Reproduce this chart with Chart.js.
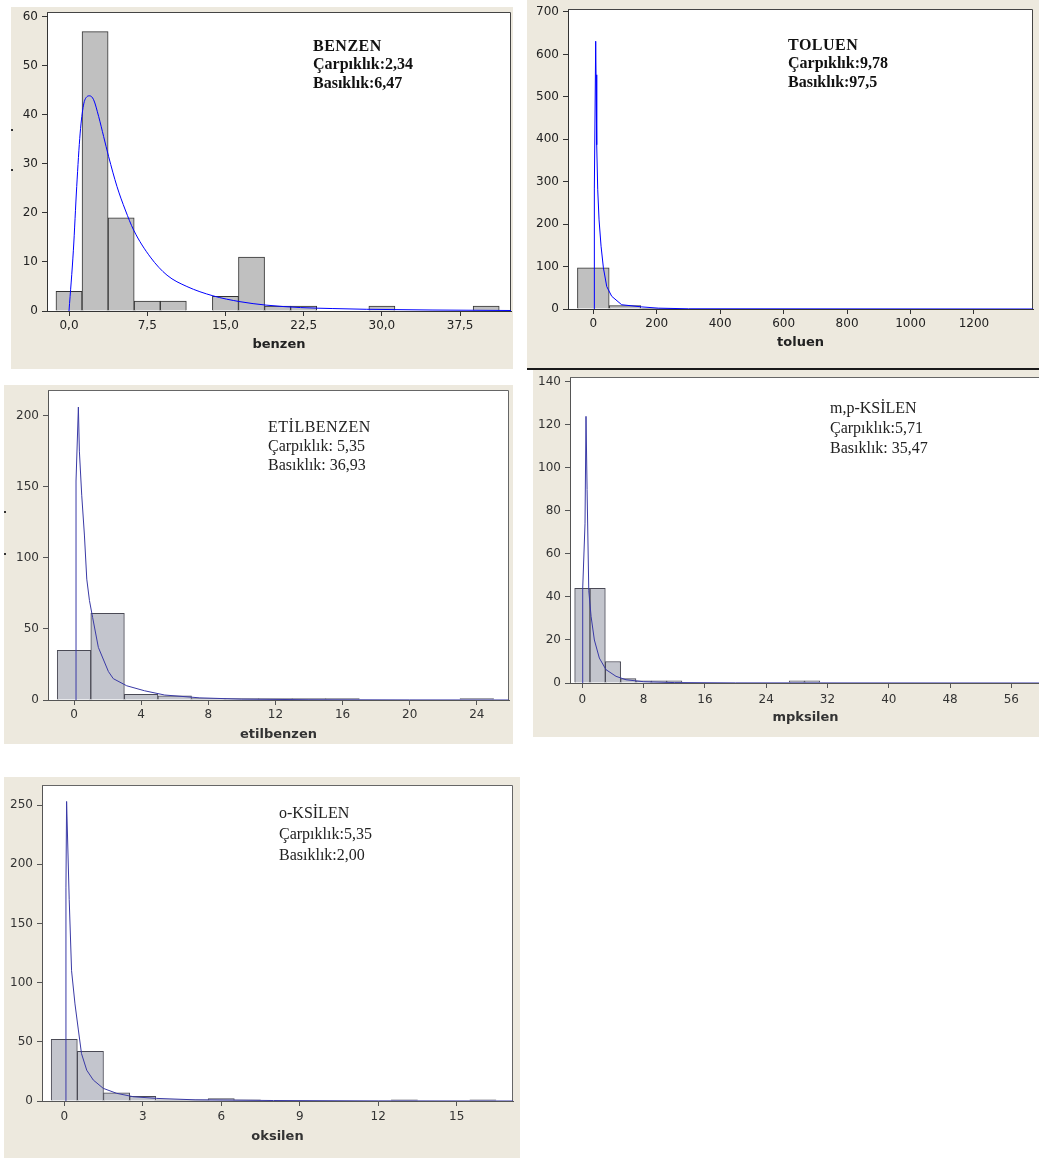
<!DOCTYPE html>
<html>
<head>
<meta charset="utf-8">
<title>Histogramlar</title>
<script src="https://cdn.jsdelivr.net/npm/chart.js@4"></script>
<style>
  html, body { margin: 0; padding: 0; background: #ffffff; }
  body { position: relative; width: 1039px; height: 1160px; overflow: hidden; }
  .panel { position: absolute; background: #ede9de; overflow: hidden; }
  .panel canvas { position: absolute; left: 0; top: 0; }
  .soft { filter: blur(0.55px); }
  .note { position: absolute; font-family: "Liberation Serif", "Times New Roman", serif;
          font-size: 16px; line-height: 16px; color: #111; white-space: nowrap; }
  .dot { position: absolute; width: 2px; height: 2px; background: #333; }
  .rule { position: absolute; background: #1a1a1a; }
</style>
</head>
<body>
<script>
// ---------- benzen ----------
const benzenBins   = [0, 2.5, 5, 7.5, 10, 12.5, 15, 17.5, 20, 22.5, 25, 27.5, 30, 32.5, 35, 37.5, 40];
const benzenCounts = [4, 57, 19, 2, 2, 0, 3, 11, 1, 1, 0, 0, 1, 0, 0, 0, 1];
const benzenFitX   = [0, 0.42, 0.74, 1.07, 1.39, 1.71, 1.97, 2.36, 2.84, 3.32, 3.8, 4.6, 5.4, 6.2, 7.8, 9.4, 11.3, 13.8, 16.4, 18.9, 22.2, 25.3, 28.5, 34.9, 42.4];
const benzenFitY   = [0, 12.4, 25.4, 36.3, 42, 43.7, 43.9, 43.1, 39.7, 35.6, 31.5, 25.4, 20.6, 16.5, 11, 7.3, 5, 3.1, 1.9, 1.2, 0.7, 0.5, 0.35, 0.2, 0.1];
const benzenXTicks = [0, 7.5, 15, 22.5, 30, 37.5];
const benzenXLabels = ['0,0', '7,5', '15,0', '22,5', '30,0', '37,5'];
const benzenYTicks = [0, 10, 20, 30, 40, 50, 60];
const benzenNote   = ['BENZEN', 'Çarpıklık:2,34', 'Basıklık:6,47'];

// ---------- toluen ----------
const toluenBins   = [0, 100, 200];
const toluenCounts = [97, 8, 1];
const toluenFitX   = [3.3, 3.3, 7.5, 8.6, 10.7, 13.9, 18.1, 24.4, 31.8, 42.3, 58, 89.5, 152.5, 205, 300, 1386];
const toluenFitY   = [0, 285, 631, 552, 387, 281, 210, 148, 97, 53, 30, 10, 5, 2, 0.5, 0];
const toluenXTicks = [0, 200, 400, 600, 800, 1000, 1200];
const toluenYTicks = [0, 100, 200, 300, 400, 500, 600, 700];
const toluenNote   = ['TOLUEN', 'Çarpıklık:9,78', 'Basıklık:97,5'];

// ---------- etilbenzen ----------
const etilBins   = [0, 2, 4, 6, 8, 10, 12, 14, 16, 18, 20, 22, 24];
const etilCounts = [35, 61, 4, 3, 1, 1, 1, 1, 1, 0, 0, 0, 1];
const etilFitX   = [0.12, 0.12, 0.26, 0.32, 0.46, 0.62, 0.76, 0.92, 1.11, 1.45, 2.05, 2.34, 3.14, 4.2, 5.4, 7.5, 10, 14, 20, 25.9];
const etilFitY   = [0, 154, 206, 175, 144, 116, 85, 70, 58, 37, 20, 15, 10, 6.5, 3.5, 1.5, 0.6, 0.2, 0.05, 0];
const etilXTicks = [0, 4, 8, 12, 16, 20, 24];
const etilYTicks = [0, 50, 100, 150, 200];
const etilNote   = ['ETİLBENZEN', 'Çarpıklık: 5,35', 'Basıklık: 36,93'];

// ---------- m,p-ksilen ----------
const mpBins   = [0, 2, 4, 6, 8, 10, 12, 14, 16, 18, 20, 22, 24, 26, 28, 30];
const mpCounts = [44, 44, 10, 2, 1, 1, 1, 0, 0, 0, 0, 0, 0, 0, 1, 1];
const mpFitX   = [0.05, 0.05, 0.35, 0.48, 0.62, 0.84, 1.14, 1.57, 2.22, 3.09, 4.4, 5.7, 8, 12, 20, 59.9];
const mpFitY   = [0, 44, 74, 124, 90, 43, 31, 20, 11.6, 6.2, 3.1, 1.5, 0.6, 0.2, 0.05, 0];
const mpXTicks = [0, 8, 16, 24, 32, 40, 48, 56];
const mpYTicks = [0, 20, 40, 60, 80, 100, 120, 140];
const mpNote   = ['m,p-KSİLEN', 'Çarpıklık:5,71', 'Basıklık: 35,47'];

// ---------- o-ksilen ----------
const okBins   = [0, 1, 2, 3, 4, 5, 6, 7, 8, 9, 10, 11, 12, 13, 14, 15, 16];
const okCounts = [52, 42, 7, 4, 1, 1, 2, 1, 0, 0, 0, 0, 0, 1, 0, 0, 1];
const okFitX   = [0.065, 0.065, 0.09, 0.19, 0.28, 0.41, 0.54, 0.66, 0.86, 1.11, 1.49, 2.0, 2.64, 3.53, 5, 8, 12, 17.15];
const okFitY   = [0, 180, 253, 170, 110, 82, 60, 40, 26, 17.7, 10.7, 6.5, 3.6, 2.2, 1, 0.4, 0.1, 0];
const okXTicks = [0, 3, 6, 9, 12, 15];
const okYTicks = [0, 50, 100, 150, 200, 250];
const okNote   = ['o-KSİLEN', 'Çarpıklık:5,35', 'Basıklık:2,00'];

Chart.defaults.font.family = '"DejaVu Sans", Verdana, sans-serif';
Chart.defaults.font.size = 12;
Chart.defaults.color = '#222';

// white plotting area plus its top and right edges
const framePlugin = {
  id: 'frame',
  beforeDraw(chart) {
    const { ctx, chartArea: a } = chart;
    ctx.save();
    ctx.fillStyle = '#ffffff';
    ctx.fillRect(a.left, a.top, a.right - a.left, a.bottom - a.top);
    ctx.restore();
  },
  beforeDatasetsDraw(chart, args, opts) {
    const { ctx, chartArea: a } = chart;
    ctx.save();
    ctx.strokeStyle = opts.color || '#333';
    ctx.lineWidth = 1;
    ctx.beginPath();
    ctx.moveTo(Math.round(a.left), Math.round(a.top) + 0.5);
    ctx.lineTo(Math.round(a.right) - 0.5, Math.round(a.top) + 0.5);
    ctx.lineTo(Math.round(a.right) - 0.5, Math.round(a.bottom));
    ctx.stroke();
    ctx.restore();
  }
};

const pairs = (xs, ys) => xs.map((x, i) => ({ x, y: ys[i] }));

function histogram(spec) {
  const box = spec.box, plot = spec.plot;
  const panel = document.createElement('div');
  panel.className = 'panel' + (spec.soft ? ' soft' : '');
  Object.assign(panel.style, { left: box.l + 'px', top: box.t + 'px', width: box.w + 'px', height: box.h + 'px' });
  document.body.appendChild(panel);

  const canvas = document.createElement('canvas');
  canvas.width = box.w; canvas.height = box.h;
  canvas.style.width = box.w + 'px'; canvas.style.height = box.h + 'px';
  panel.appendChild(canvas);

  const yAxisW = plot.l - box.l;
  const xAxisH = box.t + box.h - plot.b;
  const padTop = plot.t - box.t;
  const padRight = box.l + box.w - plot.r;
  const tickLen = 5;
  const tickFont = 12, titleFont = 13;
  const xTickPad = spec.xLabelY - plot.b - tickLen - tickFont * 1.2 / 2;
  const titlePadBottom = box.h - (spec.titleY - box.t) - titleFont * 1.2 / 2;

  // axis sizes are fixed so the plotting area sits exactly where intended
  const fixX = s => { s.height = xAxisH; s.paddingLeft = s.paddingRight = s.paddingTop = s.paddingBottom = 0; };
  const fixY = s => { s.width = yAxisW; s.paddingLeft = s.paddingRight = s.paddingTop = s.paddingBottom = 0; };

  new Chart(canvas, {
    type: 'bar',
    data: {
      datasets: [
        {
          type: 'line',
          data: pairs(spec.fitX, spec.fitY),
          borderColor: spec.curveColor,
          borderWidth: spec.curveWidth || 1,
          pointRadius: 0,
          tension: 0,
          cubicInterpolationMode: spec.smooth ? 'monotone' : 'default',
          fill: false,
          order: 0
        },
        {
          type: 'bar',
          data: pairs(spec.bins, spec.counts),
          backgroundColor: spec.barFill,
          borderColor: spec.barEdge,
          borderWidth: 1,
          borderSkipped: 'start',
          barPercentage: 1,
          categoryPercentage: 1,
          order: 1
        }
      ]
    },
    options: {
      responsive: false,
      animation: false,
      events: [],
      layout: { padding: { top: padTop, right: padRight, left: 0, bottom: 0 } },
      plugins: { legend: { display: false }, tooltip: { enabled: false }, frame: { color: spec.frameColor } },
      scales: {
        x: {
          type: 'linear',
          min: spec.xMin, max: spec.xMax,
          offset: false,
          afterFit: fixX,
          afterBuildTicks: s => { s.ticks = spec.xTicks.map(v => ({ value: v })); },
          ticks: {
            autoSkip: false, maxRotation: 0, padding: xTickPad, color: spec.textColor,
            font: { size: tickFont },
            callback: (v, i) => spec.xLabels ? spec.xLabels[i] : String(v)
          },
          grid: { drawOnChartArea: false, drawTicks: true, tickLength: tickLen, color: spec.axisColor, offset: false },
          border: { display: true, color: spec.axisColor },
          title: {
            display: true, text: spec.xTitle, color: spec.textColor,
            font: { size: titleFont, weight: 'bold' },
            padding: { top: 0, bottom: titlePadBottom }
          }
        },
        y: {
          type: 'linear',
          min: 0, max: spec.yMax,
          afterFit: fixY,
          afterBuildTicks: s => { s.ticks = spec.yTicks.map(v => ({ value: v })); },
          ticks: { padding: 4, color: spec.textColor, font: { size: tickFont }, callback: v => String(v) },
          grid: { drawOnChartArea: false, drawTicks: true, tickLength: tickLen, color: spec.axisColor },
          border: { display: true, color: spec.axisColor }
        }
      }
    },
    plugins: [framePlugin]
  });

  // statistics block inside the plotting area
  spec.note.forEach((line, i) => {
    const d = document.createElement('div');
    d.className = 'note';
    d.textContent = line;
    d.style.left = (spec.noteX - box.l) + 'px';
    d.style.top = (spec.noteY + i * spec.noteGap - 13.4 - box.t) + 'px';
    d.style.fontWeight = spec.noteBold ? 'bold' : 'normal';
    d.style.color = spec.noteColor;
    if (i === 0 && spec.noteSpacing) d.style.letterSpacing = spec.noteSpacing;
    panel.appendChild(d);
  });
  (spec.dots || []).forEach(p => {
    const d = document.createElement('div');
    d.className = 'dot';
    d.style.left = (p[0] - box.l) + 'px';
    d.style.top = (p[1] - box.t) + 'px';
    panel.appendChild(d);
  });
}

const crisp = { textColor: '#222', axisColor: '#333', frameColor: '#444', barFill: '#c0c0c0', barEdge: '#333', curveColor: '#0000ff', noteBold: true, noteColor: '#111' };
const soft  = { textColor: '#333', axisColor: '#555', frameColor: '#666', barFill: '#c3c5cd', barEdge: '#4a4a55', curveColor: '#3a3aa6', noteBold: false, noteColor: '#222', soft: true };

histogram(Object.assign({}, crisp, {
  box: { l: 11, t: 7, w: 502, h: 362 }, plot: { l: 47, t: 12, r: 511, b: 311 },
  xMin: -2.11, xMax: 42.38, yMax: 61.0,
  bins: benzenBins, counts: benzenCounts, fitX: benzenFitX, fitY: benzenFitY, smooth: true,
  xTicks: benzenXTicks, xLabels: benzenXLabels, yTicks: benzenYTicks,
  xTitle: 'benzen', xLabelY: 326, titleY: 345,
  note: benzenNote, noteX: 313, noteY: 51, noteGap: 18.5, noteSpacing: '0.5px',
  dots: [[11, 129], [11, 169]]
}));

histogram(Object.assign({}, crisp, {
  box: { l: 527, t: 0, w: 512, h: 368 }, plot: { l: 568, t: 9, r: 1033, b: 309 },
  xMin: -79.8, xMax: 1386.2, yMax: 707,
  bins: toluenBins, counts: toluenCounts, fitX: toluenFitX, fitY: toluenFitY,
  xTicks: toluenXTicks, yTicks: toluenYTicks,
  xTitle: 'toluen', xLabelY: 324, titleY: 343,
  note: toluenNote, noteX: 788, noteY: 50, noteGap: 18.5, noteSpacing: '0.5px'
}));

histogram(Object.assign({}, soft, {
  box: { l: 4, t: 385, w: 509, h: 359 }, plot: { l: 48, t: 390, r: 509, b: 700 },
  xMin: -1.55, xMax: 25.92, yMax: 218,
  bins: etilBins, counts: etilCounts, fitX: etilFitX, fitY: etilFitY,
  xTicks: etilXTicks, yTicks: etilYTicks,
  xTitle: 'etilbenzen', xLabelY: 715, titleY: 735,
  note: etilNote, noteX: 268, noteY: 432, noteGap: 19.4, noteSpacing: '0.5px',
  dots: [[4, 511], [4, 553]]
}));

histogram(Object.assign({}, soft, {
  box: { l: 533, t: 370, w: 512, h: 367 }, plot: { l: 570, t: 377, r: 1041, b: 683 },
  xMin: -1.61, xMax: 59.87, yMax: 142.3,
  bins: mpBins, counts: mpCounts, fitX: mpFitX, fitY: mpFitY,
  xTicks: mpXTicks, yTicks: mpYTicks,
  xTitle: 'mpksilen', xLabelY: 700, titleY: 718,
  note: mpNote, noteX: 830, noteY: 413, noteGap: 20
}));

histogram(Object.assign({}, soft, {
  box: { l: 4, t: 777, w: 516, h: 381 }, plot: { l: 42, t: 785, r: 513, b: 1101 },
  xMin: -0.85, xMax: 17.15, yMax: 266.9,
  bins: okBins, counts: okCounts, fitX: okFitX, fitY: okFitY,
  xTicks: okXTicks, yTicks: okYTicks,
  xTitle: 'oksilen', xLabelY: 1117, titleY: 1137,
  note: okNote, noteX: 279, noteY: 818, noteGap: 21
}));

// dark rule under the toluen panel
const rule = document.createElement('div');
rule.className = 'rule';
Object.assign(rule.style, { left: '527px', top: '368px', width: '512px', height: '2px' });
document.body.appendChild(rule);
</script>
</body>
</html>
